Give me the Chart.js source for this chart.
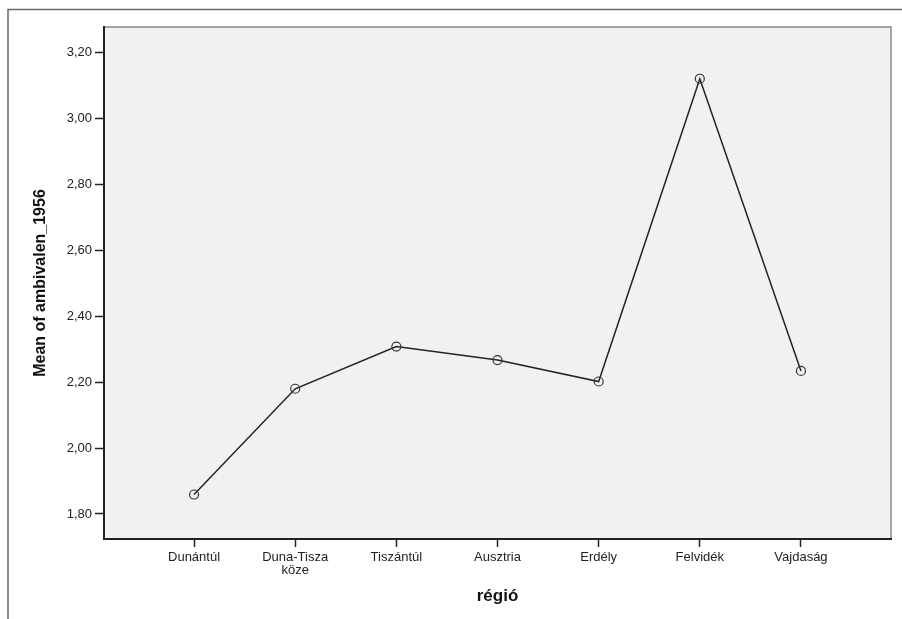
<!DOCTYPE html>
<html>
<head>
<meta charset="utf-8">
<script src="https://cdn.jsdelivr.net/npm/chart.js@4.4.1/dist/chart.umd.min.js"></script>
<style>
  body { margin: 0; background: #fff; }
  #wrap { width: 902px; height: 619px; }
</style>
</head>
<body>
<div id="wrap"><canvas id="chart" width="902" height="619"></canvas></div>
<script>
// data
const regions = ['Dunántúl', 'Duna-Tisza\nköze', 'Tiszántúl', 'Ausztria', 'Erdély', 'Felvidék', 'Vajdaság'];
const means = [1.859, 2.180, 2.308, 2.267, 2.202, 3.121, 2.234];
const yTicks = [1.8, 2.0, 2.2, 2.4, 2.6, 2.8, 3.0, 3.2];

const points = means.map((v, i) => ({ x: i, y: v }));

// plot background + frame, and the outer image border
const frame = {
  id: 'frame',
  beforeDraw(chart) {
    const { ctx, chartArea: a } = chart;
    ctx.save();
    ctx.fillStyle = '#fff';
    ctx.fillRect(0, 0, chart.width, chart.height);
    ctx.strokeStyle = '#666';
    ctx.lineWidth = 1.5;
    ctx.beginPath();
    ctx.moveTo(8, chart.height);
    ctx.lineTo(8, 9.5);
    ctx.lineTo(chart.width, 9.5);
    ctx.stroke();
    ctx.fillStyle = '#f0f1f1';
    ctx.fillRect(a.left, a.top, a.right - a.left, a.bottom - a.top);
    ctx.strokeStyle = '#888';
    ctx.lineWidth = 1.5;
    ctx.beginPath();
    ctx.moveTo(a.left, a.top);
    ctx.lineTo(a.right, a.top);
    ctx.lineTo(a.right, a.bottom);
    ctx.stroke();
    ctx.restore();
  }
};

new Chart(document.getElementById('chart'), {
  type: 'line',
  data: {
    datasets: [{
      data: points,
      borderColor: '#222',
      borderWidth: 1.5,
      tension: 0,
      pointStyle: 'circle',
      pointRadius: 4.5,
      pointBorderWidth: 1.2,
      pointBorderColor: '#333',
      pointBackgroundColor: 'rgba(0,0,0,0)'
    }]
  },
  options: {
    responsive: false,
    animation: false,
    layout: { padding: { left: 0, top: 27, right: 11, bottom: 0 } },
    plugins: { legend: { display: false }, tooltip: { enabled: false } },
    scales: {
      x: {
        type: 'linear',
        min: -0.89,
        max: 6.89,
        afterBuildTicks: s => { s.ticks = regions.map((_, i) => ({ value: i })); },
        afterFit: s => { s.height = 80; },
        grid: { drawOnChartArea: false, tickLength: 8, tickColor: '#222', tickWidth: 1.5 },
        border: { color: '#222', width: 2 },
        ticks: {
          padding: 4,
          color: '#222',
          font: { family: 'Liberation Sans', size: 13, lineHeight: 1.0 },
          maxRotation: 0,
          autoSkip: false,
          callback: v => regions[v].split('\n')
        },
        title: {
          display: true,
          text: 'régió',
          color: '#111',
          font: { family: 'Liberation Sans', size: 17, weight: 'bold' },
          padding: { top: 0, bottom: 12 }
        }
      },
      y: {
        min: 1.724,
        max: 3.278,
        afterBuildTicks: s => { s.ticks = yTicks.map(v => ({ value: v })); },
        afterFit: s => { s.width = 104; },
        grid: { drawOnChartArea: false, tickLength: 9, tickColor: '#222', tickWidth: 1.5 },
        border: { color: '#222', width: 2 },
        ticks: {
          padding: 3,
          color: '#222',
          font: { family: 'Liberation Sans', size: 13 },
          callback: v => v.toFixed(2).replace('.', ',')
        },
        title: {
          display: true,
          text: 'Mean of ambivalen_1956',
          color: '#111',
          font: { family: 'Liberation Sans', size: 16, weight: 'bold' },
          padding: { top: 31, bottom: 0 }
        }
      }
    }
  },
  plugins: [frame]
});
</script>
</body>
</html>
